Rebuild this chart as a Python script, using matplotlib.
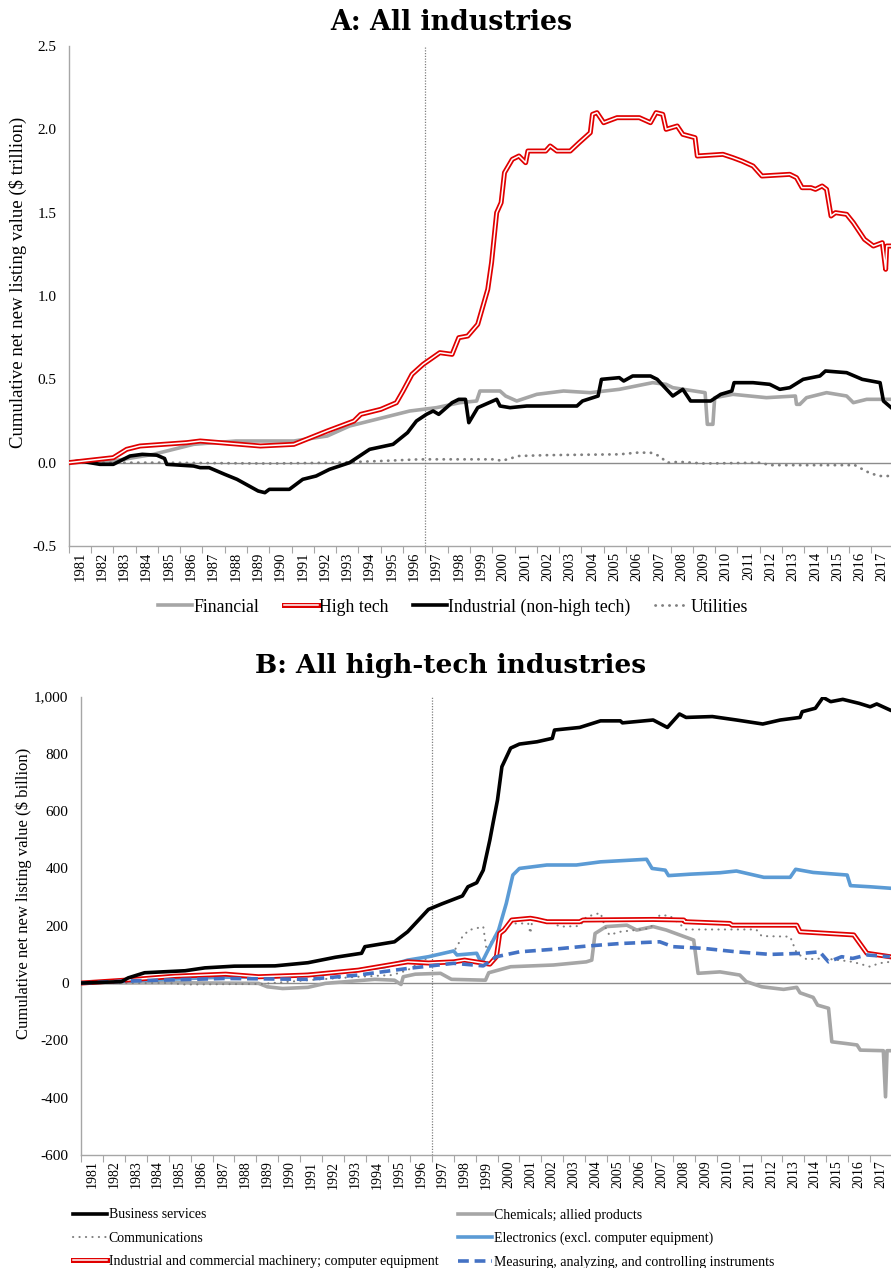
import matplotlib
matplotlib.use("Agg")
import matplotlib.pyplot as plt
import matplotlib.patheffects as pe
from matplotlib.ticker import FuncFormatter, FixedLocator, NullFormatter

plt.rcParams['font.family'] = ['Liberation Serif', 'DejaVu Serif']

# ---------------- Panel A data ($ trillion) ----------------
fin_t = [1981.0, 1983.0, 1984.8, 1986.6, 1988.5, 1991.1, 1992.6, 1993.6, 1994.8, 1996.3,
         1997.5, 1998.55, 1999.3, 1999.45, 2000.35, 2000.6, 2001.1, 2002.0, 2003.2, 2004.4,
         2005.7, 2007.2, 2007.8, 2008.1, 2009.55, 2009.65, 2009.9, 2009.98, 2010.8, 2012.3,
         2013.6, 2013.65, 2013.8, 2014.1, 2015.0, 2015.9, 2016.2, 2016.8, 2017.9]
fin_v = [0.0, 0.01, 0.05, 0.11, 0.13, 0.13, 0.16, 0.22, 0.26, 0.31,
         0.33, 0.36, 0.37, 0.43, 0.43, 0.40, 0.37, 0.41, 0.43, 0.42,
         0.44, 0.48, 0.47, 0.45, 0.42, 0.23, 0.23, 0.39, 0.41, 0.39,
         0.40, 0.35, 0.35, 0.39, 0.42, 0.40, 0.36, 0.38, 0.38]

ht_t = [1981.0, 1983.0, 1983.6, 1984.2, 1986.3, 1986.9, 1989.6, 1991.1, 1992.6, 1993.8,
        1994.1, 1995.0, 1995.7, 1996.0, 1996.4, 1996.9, 1997.65, 1998.2, 1998.5, 1998.9,
        1999.35, 1999.8, 1999.97, 2000.2, 2000.4, 2000.55, 2000.9, 2001.2, 2001.5, 2001.6,
        2002.4, 2002.6, 2002.9, 2003.5, 2003.9, 2004.4, 2004.5, 2004.7, 2005.0, 2005.6,
        2006.6, 2007.1, 2007.35, 2007.65, 2007.8, 2008.3, 2008.55, 2009.1, 2009.2, 2010.35,
        2010.8, 2011.2, 2011.7, 2012.1, 2013.35, 2013.65, 2013.9, 2014.3, 2014.5, 2014.8,
        2015.0, 2015.2, 2015.4, 2015.9, 2016.2, 2016.7, 2017.1, 2017.5, 2017.65, 2017.7,
        2017.9]
ht_v = [0.0, 0.03, 0.08, 0.10, 0.12, 0.13, 0.10, 0.11, 0.19, 0.25,
        0.29, 0.32, 0.36, 0.43, 0.53, 0.59, 0.66, 0.65, 0.75, 0.76,
        0.83, 1.04, 1.20, 1.50, 1.56, 1.74, 1.82, 1.84, 1.80, 1.87,
        1.87, 1.90, 1.87, 1.87, 1.92, 1.98, 2.09, 2.10, 2.04, 2.07,
        2.07, 2.04, 2.10, 2.09, 2.00, 2.02, 1.97, 1.95, 1.84, 1.85,
        1.83, 1.81, 1.78, 1.72, 1.73, 1.71, 1.65, 1.65, 1.64, 1.66,
        1.64, 1.48, 1.50, 1.49, 1.44, 1.34, 1.30, 1.32, 1.16, 1.30,
        1.30]

ind_t = [1981.0, 1981.5, 1982.4, 1983.0, 1983.75, 1984.3, 1984.95, 1985.3, 1985.4, 1986.6,
         1986.9, 1987.3, 1988.0, 1988.55, 1989.5, 1989.8, 1990.0, 1990.9, 1991.5, 1992.1,
         1992.7, 1993.6, 1994.5, 1995.55, 1996.2, 1996.6, 1997.05, 1997.35, 1997.6, 1998.2,
         1998.5, 1998.8, 1998.95, 1999.35, 2000.2, 2000.35, 2000.8, 2001.55, 2003.8, 2004.05,
         2004.75, 2004.9, 2005.7, 2005.9, 2006.3, 2007.1, 2007.4, 2008.1, 2008.55, 2008.9,
         2009.8, 2010.25, 2010.75, 2010.85, 2011.7, 2012.45, 2012.9, 2013.35, 2013.95, 2014.7,
         2014.95, 2015.9, 2016.6, 2017.4, 2017.55, 2017.9]
ind_v = [0.0, 0.01, -0.01, -0.01, 0.04, 0.05, 0.045, 0.025, -0.01, -0.02,
         -0.03, -0.03, -0.07, -0.10, -0.17, -0.18, -0.16, -0.16, -0.10, -0.08,
         -0.04, 0.0, 0.08, 0.11, 0.18, 0.25, 0.29, 0.31, 0.29, 0.36,
         0.38, 0.38, 0.24, 0.33, 0.38, 0.34, 0.33, 0.34, 0.34, 0.37,
         0.40, 0.50, 0.51, 0.49, 0.52, 0.52, 0.50, 0.40, 0.44, 0.37,
         0.37, 0.41, 0.43, 0.48, 0.48, 0.47, 0.44, 0.45, 0.50, 0.52,
         0.55, 0.54, 0.50, 0.48, 0.37, 0.33]

util_t = [1981.0, 1985.0, 1990.0, 1993.0, 1995.0, 1996.75, 2000.2, 2000.4, 2001.2, 2002.4,
          2005.7, 2006.5, 2007.1, 2007.5, 2007.85, 2008.4, 2009.5, 2012.1, 2012.4, 2016.0,
          2016.2, 2016.9, 2017.35, 2017.9]
util_v = [0.0, 0.0, -0.005, 0.0, 0.01, 0.02, 0.02, 0.01, 0.04, 0.045,
          0.05, 0.06, 0.06, 0.04, 0.0, 0.005, -0.005, 0.0, -0.015, -0.015,
          -0.01, -0.06, -0.08, -0.08]

# ---------------- Panel B data ($ billion) ----------------
bus_t = [1981.0, 1982.85, 1983.15, 1983.9, 1985.75, 1986.65, 1988.0, 1989.85, 1991.35, 1992.6,
         1993.8, 1993.95, 1995.3, 1995.9, 1996.4, 1996.85, 1997.45, 1998.4, 1998.65, 1999.05,
         1999.35, 1999.65, 1999.8, 2000.0, 2000.2, 2000.6, 2001.0, 2001.8, 2002.5, 2002.6,
         2003.75, 2004.7, 2005.6, 2005.7, 2007.1, 2007.75, 2008.3, 2008.6, 2009.8, 2010.9,
         2012.1, 2012.9, 2013.8, 2013.9, 2014.5, 2014.85, 2015.2, 2015.75, 2016.5, 2017.0,
         2017.3, 2017.9]
bus_v = [0, 5, 18, 36, 43, 53, 59, 60, 71, 90,
         104, 127, 144, 179, 220, 257, 276, 304, 336, 350,
         394, 499, 560, 639, 755, 820, 834, 842, 854, 883,
         892, 915, 915, 908, 918, 892, 939, 927, 930, 918,
         904, 918, 927, 947, 959, 997, 982, 990, 976, 964,
         974, 953]

chem_t = [1981.0, 1985.3, 1989.1, 1989.5, 1990.2, 1991.35, 1992.15, 1994.4, 1995.3, 1995.6,
          1995.7, 1996.25, 1997.4, 1997.9, 1999.45, 1999.6, 2000.6, 2002.55, 2004.05, 2004.3,
          2004.45, 2004.95, 2005.9, 2006.35, 2007.1, 2007.7, 2008.95, 2009.15, 2010.15, 2011.05,
          2011.35, 2012.05, 2013.05, 2013.65, 2013.8, 2014.4, 2014.6, 2015.1, 2015.25, 2015.9,
          2016.4, 2016.55, 2017.6, 2017.7, 2017.77, 2017.9]
chem_v = [0, 1, -1, -13, -19, -15, -1, 13, 10, -5,
          22, 31, 34, 13, 10, 36, 57, 63, 74, 80,
          173, 197, 202, 185, 197, 185, 150, 34, 39, 28,
          5, -13, -22, -15, -34, -50, -77, -88, -205, -211,
          -216, -234, -236, -397, -236, -236]

comm_t = [1981.0, 1985.0, 1985.75, 1989.25, 1991.35, 1993.65, 1995.2, 1995.9, 1996.85, 1997.5,
          1998.05, 1998.4, 1998.7, 1999.35, 1999.5, 1999.95, 2000.6, 2001.4, 2001.5, 2001.6,
          2002.25, 2002.85, 2003.75, 2004.05, 2004.7, 2004.9, 2005.1, 2005.6, 2006.95, 2007.4,
          2007.85, 2008.1, 2008.6, 2011.8, 2012.05, 2013.35, 2013.65, 2014.1, 2014.9, 2015.6,
          2016.2, 2017.0, 2017.4, 2017.9]
comm_v = [0, 0, -5, -3, 10, 22, 28, 45, 90, 104,
          115, 162, 185, 197, 115, 173, 208, 208, 173, 226,
          220, 197, 199, 231, 245, 197, 168, 179, 191, 237,
          235, 220, 187, 187, 164, 162, 104, 83, 86, 80,
          74, 57, 69, 74]

elec_t = [1981.0, 1983.0, 1987.25, 1989.85, 1992.6, 1994.85, 1995.9, 1996.85, 1998.0, 1998.15,
          1999.05, 1999.2, 1999.3, 1999.65, 2000.05, 2000.4, 2000.7, 2001.0, 2002.25, 2003.6,
          2004.7, 2006.8, 2007.05, 2007.65, 2007.8, 2008.8, 2010.15, 2010.9, 2012.15, 2013.35,
          2013.6, 2014.4, 2015.95, 2016.1, 2017.0, 2017.9]
elec_v = [0, 7, 20, 22, 36, 57, 80, 92, 112, 98,
          104, 80, 74, 127, 185, 278, 377, 400, 412, 412,
          423, 432, 400, 394, 375, 380, 385, 391, 369, 369,
          397, 386, 377, 340, 336, 331]

mach_t = [1981.0, 1983.0, 1985.3, 1987.6, 1989.1, 1991.35, 1993.65, 1995.9, 1996.85, 1998.0,
          1998.5, 1999.65, 1999.95, 2000.1, 2000.3, 2000.65, 2001.5, 2001.8, 2002.25, 2003.75,
          2003.9, 2007.1, 2008.5, 2008.55, 2010.6, 2010.7, 2013.65, 2013.8, 2016.25, 2016.85,
          2017.9]
mach_v = [0, 10, 24, 31, 22, 28, 45, 74, 70, 74,
          80, 66, 92, 173, 185, 220, 226, 222, 214, 214,
          220, 222, 220, 214, 208, 202, 202, 179, 168, 104,
          92]

meas_t = [1981.0, 1983.0, 1987.6, 1991.35, 1993.65, 1995.9, 1996.85, 1998.0, 1999.35, 1999.95,
          2001.0, 2002.55, 2004.05, 2005.6, 2007.4, 2008.0, 2009.4, 2010.9, 2012.45, 2013.95,
          2014.7, 2015.1, 2015.7, 2016.2, 2016.85, 2017.9]
meas_v = [0, 7, 16, 13, 28, 51, 59, 69, 60, 92,
          109, 118, 129, 138, 144, 127, 121, 109, 100, 104,
          109, 74, 92, 86, 98, 92]

years = list(range(1981, 2018))

# ---------------- Figure ----------------
W, H = 891, 1268
fig = plt.figure(figsize=(W / 100, H / 100), dpi=100)

AXIS_GRAY = '#a6a6a6'
RED = '#e00000'


def double_red():
    return [pe.Stroke(linewidth=3.6, foreground=RED), pe.Normal()]


def style_axes(ax, xmax, ylim, yticks, fmt, tick_fs, ytick_fs):
    ax.set_xlim(1981, xmax)
    ax.set_ylim(*ylim)
    for s in ['top', 'right']:
        ax.spines[s].set_visible(False)
    for s in ['left', 'bottom']:
        ax.spines[s].set_color(AXIS_GRAY)
        ax.spines[s].set_linewidth(1.0)
    ax.xaxis.set_major_locator(FixedLocator(list(range(1981, 2019))))
    ax.xaxis.set_major_formatter(NullFormatter())
    ax.xaxis.set_minor_locator(FixedLocator([y + 0.5 for y in years]))
    ax.xaxis.set_minor_formatter(FuncFormatter(lambda x, p: str(int(x))))
    ax.tick_params(axis='x', which='major', length=5, color=AXIS_GRAY, direction='out')
    ax.tick_params(axis='x', which='minor', length=0, labelsize=tick_fs, pad=4)
    for lab in ax.xaxis.get_minorticklabels():
        lab.set_rotation(90)
    ax.set_yticks(yticks)
    ax.yaxis.set_major_formatter(FuncFormatter(fmt))
    ax.tick_params(axis='y', length=0, labelsize=ytick_fs, pad=9)
    ax.axhline(0, color='#8c8c8c', lw=1.0, zorder=1)
    ax.axvline(1997.0, color='#808080', lw=0.9, ls=(0, (1, 1.2)), zorder=1)


# ---- Panel A ----
axA = fig.add_axes([68.7 / W, 1 - 546 / H, 1 - 68.7 / W, (546 - 46) / H])
style_axes(axA, 2017.89, (-0.5, 2.5), [-0.5, 0.0, 0.5, 1.0, 1.5, 2.0, 2.5],
           lambda v, p: f"{v:.1f}", 10.5, 11)
axA.set_ylabel("Cumulative net new listing value ($ trillion)", fontsize=13.5)
axA.yaxis.set_label_coords(-0.0507, 0.528)

lA_fin, = axA.plot(fin_t, fin_v, color='#a6a6a6', lw=2.6, label='Financial', zorder=3)
lA_ht, = axA.plot(ht_t, ht_v, color='white', lw=1.1, label='High tech', zorder=5,
                  path_effects=double_red())
lA_ind, = axA.plot(ind_t, ind_v, color='black', lw=2.6, label='Industrial (non-high tech)', zorder=4)
lA_ut, = axA.plot(util_t, util_v, color='#808080', lw=2.0, ls=(0, (0.1, 2.4)),
                  dash_capstyle='round', label='Utilities', zorder=3)
for ln in (lA_fin, lA_ind):
    ln.set_solid_joinstyle('round')

fig.text(451 / W, 1 - 23 / H, "A: All industries", ha='center', va='center',
         fontsize=19.3, fontweight='bold', family=['DejaVu Serif'])

fig.legend(handles=[lA_fin, lA_ht, lA_ind, lA_ut], loc='center',
           bbox_to_anchor=(453 / W, 1 - 607 / H), ncol=4, frameon=False,
           fontsize=12.8, handlelength=1.9, handletextpad=0.1, columnspacing=1.35)

# ---- Panel B ----
axB = fig.add_axes([81 / W, 1 - 1155 / H, 1 - 81 / W, (1155 - 696.5) / H])
style_axes(axB, 2017.95, (-600, 1000), [-600, -400, -200, 0, 200, 400, 600, 800, 1000],
           lambda v, p: f"{int(v):,}", 10, 11)
axB.set_ylabel("Cumulative net new listing value ($ billion)", fontsize=12)
axB.yaxis.set_label_coords(-0.0605, 0.571)

lB_bus, = axB.plot(bus_t, bus_v, color='black', lw=2.6, label='Business services', zorder=6)
lB_chem, = axB.plot(chem_t, chem_v, color='#a6a6a6', lw=2.6, label='Chemicals; allied products', zorder=3)
lB_comm, = axB.plot(comm_t, comm_v, color='#808080', lw=1.5, ls=(0, (0.1, 3.0)),
                    dash_capstyle='round', label='Communications', zorder=4)
lB_elec, = axB.plot(elec_t, elec_v, color='#5b9bd5', lw=2.6,
                    label='Electronics (excl. computer equipment)', zorder=4)
lB_mach, = axB.plot(mach_t, mach_v, color='white', lw=1.1,
                    label='Industrial and commercial machinery; computer equipment', zorder=5,
                    path_effects=double_red())
lB_meas, = axB.plot(meas_t, meas_v, color='#4472c4', lw=2.6, ls=(0, (3, 1.6)),
                    label='Measuring, analyzing, and controlling instruments', zorder=5)

fig.text(451 / W, 1 - 665 / H, "B: All high-tech industries", ha='center', va='center',
         fontsize=19, fontweight='bold', family=['DejaVu Serif'])

# legend fills column by column: left column then right column
fig.legend(handles=[lB_bus, lB_comm, lB_mach, lB_chem, lB_elec, lB_meas],
           loc='upper left', bbox_to_anchor=(60 / W, 1 - 1196 / H), ncol=2, frameon=False,
           fontsize=10, handlelength=2.45, handletextpad=0.15, columnspacing=1.4,
           labelspacing=0.75)

fig.savefig("out.png", dpi=100)
